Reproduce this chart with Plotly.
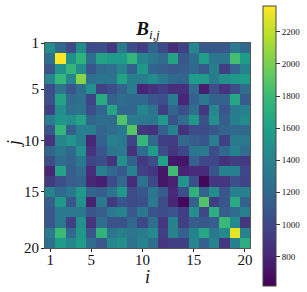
import plotly.graph_objects as go

i_labels = list(range(1, 21))
j_labels = list(range(1, 21))
x_tick_vals = [1, 5, 10, 15, 20]
y_tick_vals = [0.5, 5, 10, 15, 20.5]
tick_text = ["1", "5", "10", "15", "20"]
cbar_ticks = [800, 1000, 1200, 1400, 1600, 1800, 2000, 2200]

B = [
 [1480,1200,1020,1470,1020,1040,900,1350,1040,950,1180,1000,840,960,1430,1100,1100,1100,1330,1200],
 [1250,2360,1500,1740,1250,1620,1560,1560,1760,1420,1300,1220,1620,1100,1240,1580,1300,1300,1830,1570],
 [1080,1500,1770,1470,1080,1220,1260,1400,1150,1540,1180,1130,1100,1130,1200,1100,1370,950,1180,1400],
 [1420,1780,1420,2050,1270,1300,1290,1620,1370,1350,1450,1310,1200,1180,1580,1570,1350,1500,1540,1570],
 [1040,1280,1080,1250,1500,960,1040,1170,1350,800,870,950,850,860,1230,760,1040,880,1040,1230],
 [1050,1620,1220,1260,980,1680,1170,1240,1210,1210,1080,1050,1350,800,1160,1330,1170,1170,1650,1120],
 [950,1480,1250,1290,1040,1180,1640,1200,1190,1430,1280,940,1180,1040,1250,900,1430,1080,1340,1380],
 [1360,1530,1480,1620,1180,1240,1230,1880,1340,1330,1320,1550,1060,1230,1550,1060,1480,1140,1370,1460],
 [1090,1770,1150,1360,1370,1180,1230,1320,1900,900,860,1150,1400,870,1020,1020,1080,1180,1200,1200],
 [880,1430,1520,1370,800,1170,1380,1320,980,1780,1200,950,930,1200,1140,1090,1360,960,1330,1320],
 [1180,1310,1200,1490,880,1080,1300,1330,870,1230,1580,1030,890,1000,1300,1330,1030,1200,1380,1230],
 [1020,1240,1170,1320,990,1040,880,1500,1150,910,1030,1610,730,720,1160,1000,1000,870,950,920],
 [800,1620,1130,1230,840,1370,1200,1100,1400,960,890,730,1820,790,830,830,1080,1380,1370,1000],
 [920,1050,1130,1170,810,770,1020,1200,830,1270,1000,730,790,1520,1050,650,900,900,1050,980],
 [1400,1210,1320,1550,1180,1130,1280,1550,1020,1100,1300,1120,830,1050,1740,1170,1480,1100,1380,1380],
 [1130,1550,1090,1490,780,1330,920,1090,1020,1050,1330,1020,800,650,1170,1880,950,1080,1680,1160],
 [1100,1330,1330,1320,1080,1130,1330,1400,1100,1310,1060,1030,1080,950,1480,1000,1710,1130,1230,1370],
 [1090,1320,950,1500,880,1240,1060,1060,1200,1000,1250,900,1400,950,1130,1100,1130,1800,1450,900],
 [1350,1800,1200,1540,1080,1750,1300,1370,1300,1350,1450,950,1400,1150,1400,1650,1320,1450,2300,1400],
 [1250,1570,1420,1570,1230,1100,1430,1500,1270,1400,1230,900,950,950,1430,1160,1400,900,1380,1700],
]

SERIF = "Liberation Serif, Times New Roman, serif"
L, R, T, Bm = 45, 57, 43, 44
PW, PH = 205, 205

fig = go.Figure(go.Heatmap(
    z=B, x=i_labels, y=j_labels,
    colorscale="Viridis", zmin=619, zmax=2364, zsmooth=False,
    colorbar=dict(
        thickness=13, thicknessmode="pixels",
        len=280, lenmode="pixels",
        x=(263 - L) / PW, xanchor="left", xpad=0,
        y=1 + (T - 5.5) / PH, yanchor="top", ypad=0,
        outlinewidth=1, outlinecolor="#444444",
        tickvals=cbar_ticks, ticks="outside", ticklen=4, tickwidth=1, tickcolor="#333333",
        tickfont=dict(family=SERIF, size=9, color="#111111"),
    ),
))
axis = dict(
    ticks="outside", ticklen=3, tickwidth=1, tickcolor="#222222", tickmode="array",
    showline=True, linecolor="#555555", linewidth=1, mirror=True,
    showgrid=False, zeroline=False, automargin=False, ticktext=tick_text,
    tickfont=dict(family=SERIF, size=15, color="#111111"),
)
fig.update_layout(
    width=307, height=292,
    margin=dict(l=L, r=R, t=T, b=Bm, autoexpand=False),
    paper_bgcolor="white", plot_bgcolor="white",
    font=dict(family=SERIF, color="#111111"),
    title=dict(text="<b><i>B</i></b><sub><i>i,j</i></sub>", x=148 / 307, xanchor="center",
               y=1 - 28 / 292, yanchor="middle", font=dict(family=SERIF, size=19)),
    xaxis=dict(axis, range=[0.5, 20.5], tickvals=x_tick_vals, ticklabelstandoff=-5),
    yaxis=dict(axis, range=[20.5, 0.5], tickvals=y_tick_vals, ticklabelstandoff=-1),
    annotations=[
        dict(text="<i>i</i>", xref="paper", yref="paper", x=(147 - L) / PW, y=-(277 - 248) / PH,
             xanchor="center", yanchor="middle", showarrow=False, font=dict(family=SERIF, size=18)),
        dict(text="<i>j</i>", xref="paper", yref="paper", x=(14 - L) / PW, y=(248 - 144) / PH,
             xanchor="center", yanchor="middle", showarrow=False, textangle=-90, font=dict(family=SERIF, size=18)),
    ],
)
fig.write_html("out.html", config={"displayModeBar": False},
               post_script="document.body.style.margin='0';")
